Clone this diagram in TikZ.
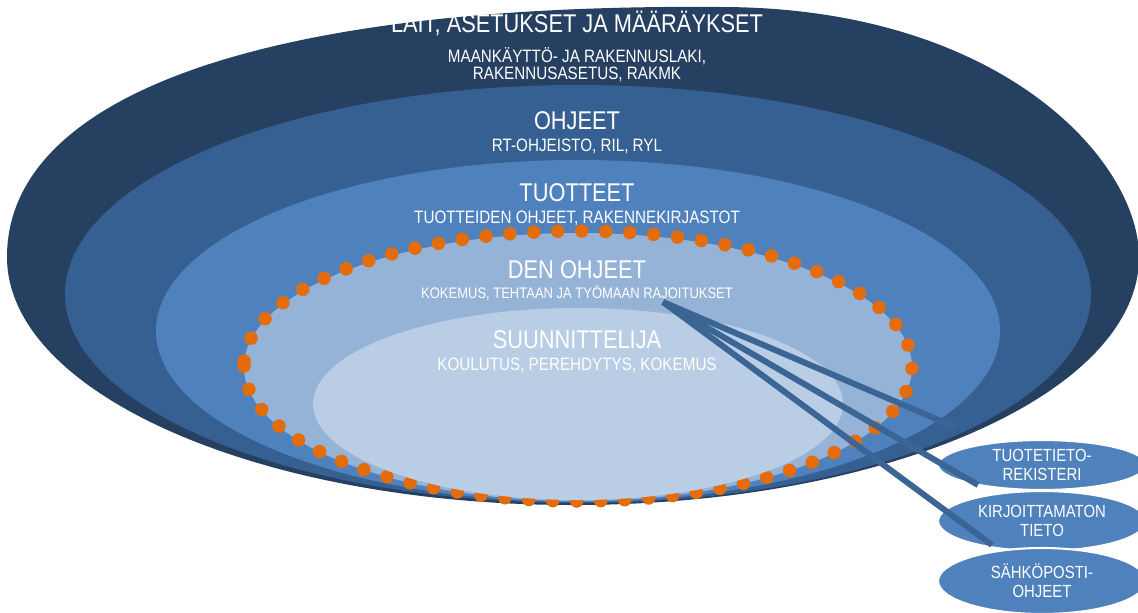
\documentclass[tikz,border=0pt]{standalone}
\usepackage{fontspec}
\setmainfont{Liberation Sans}[FakeStretch=0.85]
\usetikzlibrary{shapes.geometric}

\definecolor{ringA}{HTML}{264061}
\definecolor{ringB}{HTML}{376092}
\definecolor{ringC}{HTML}{4F81BD}
\definecolor{ringD}{HTML}{95B3D7}
\definecolor{ringE}{HTML}{B9CDE5}
\definecolor{dotorange}{HTML}{E46C0A}
\definecolor{linkblue}{HTML}{3A6595}

\tikzset{
 ringtitle/.style={text=white, inner sep=0, anchor=base, font=\fontsize{14.6}{16}\selectfont},
 ringsub/.style={text=white, inner sep=0, anchor=base, font=\fontsize{10.2}{12}\selectfont},
 sourcebox/.style={ellipse, fill=ringC, draw=white, line width=1.2pt, text=white, align=center,
   inner sep=0, minimum width=4.16cm, font=\fontsize{10}{10.8}\selectfont},
 dotline/.style={draw=dotorange, line width=0.27cm, line cap=round, dash pattern=on 0pt off 0.48cm},
 feedline/.style={draw=linkblue, line width=0.12cm}
}

\begin{document}
\begin{tikzpicture}[x=0.02cm, y=-0.02cm]
\useasboundingbox (0,0) rectangle (1138,612);
% outer ring: lower half elliptic, top leaning to the right
\fill[ringA] (7,257) arc [start angle=180, end angle=0, x radius=566, y radius=248]
  .. controls (1139,160) and (1000,7) .. (720,7)
  .. controls (250,3) and (7,100) .. (7,257) -- cycle;
\foreach \cy/\rx/\ry/\col in {294/513/209/ringB, 331/422/171/ringC, 367/334/134/ringD} {
 \fill[\col] (578,\cy) ellipse [x radius=\rx, y radius=\ry];
}
\draw[dotline] (244,366) arc [start angle=180, end angle=-180, x radius=334, y radius=135];
\fill[ringE] (578,404) ellipse [x radius=265, y radius=96];

% ring texts
\node[ringtitle] (laki) at (577,32) {LAIT, ASETUKSET JA MÄÄRÄYKSET};
\node[ringsub] (lakiA) at (577,62) {MAANKÄYTTÖ- JA RAKENNUSLAKI,};
\node[ringsub] (lakiB) at (577,79.5) {RAKENNUSASETUS, RAKMK};
\node[ringtitle] (ohje) at (577,129) {OHJEET};
\node[ringsub] (ohjeA) at (577,151) {RT-OHJEISTO, RIL, RYL};
\node[ringtitle] (tuote) at (577,201.5) {TUOTTEET};
\node[ringsub] (tuoteA) at (577,223) {TUOTTEIDEN OHJEET, RAKENNEKIRJASTOT};
\node[ringtitle] (den) at (577,278) {DEN OHJEET};
\node[ringsub, font=\fontsize{8.7}{10}\selectfont] (denA) at (577,298) {KOKEMUS, TEHTAAN JA TYÖMAAN RAJOITUKSET};
\node[ringtitle] (suun) at (577,348) {SUUNNITTELIJA};
\node[ringsub] (suunA) at (577,370) {KOULUTUS, PEREHDYTYS, KOKEMUS};

% sources on the right
\node[sourcebox, minimum height=1cm] (rek) at (1042,465) {TUOTETIETO-\\REKISTERI};
\node[sourcebox, minimum height=1.2cm] (tieto) at (1042,521) {KIRJOITTAMATON\\TIETO};
\node[sourcebox, minimum height=1.32cm] (posti) at (1042,581) {SÄHKÖPOSTI-\\OHJEET};

\coordinate (hub) at (663,302);
\coordinate (rekEnd) at (955,427);
\coordinate (tietoEnd) at (978,485);
\coordinate (postiEnd) at (992,545);
\draw[feedline] (hub) -- (rekEnd);
\draw[feedline] (hub) -- (tietoEnd);
\draw[feedline] (hub) -- (postiEnd);
\end{tikzpicture}
\end{document}
